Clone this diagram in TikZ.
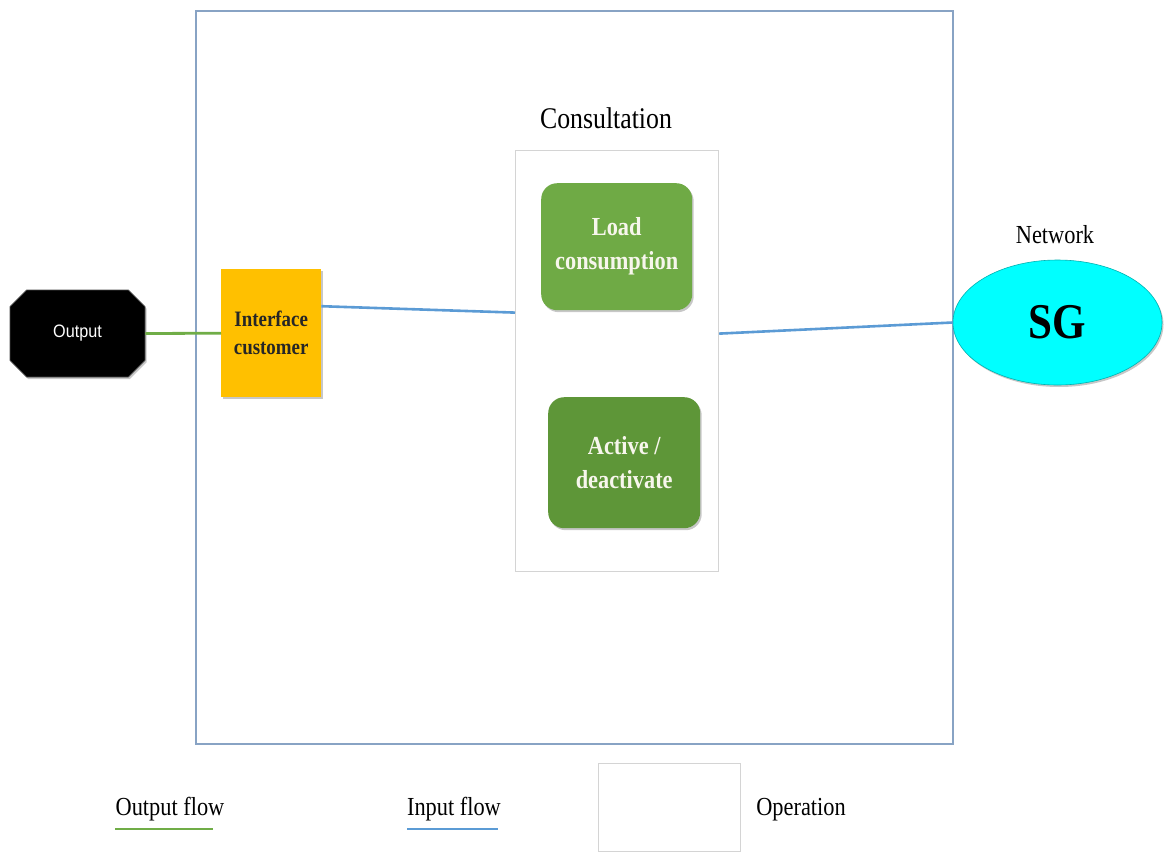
\documentclass[tikz,border=0pt]{standalone}
\usepackage{fontspec}
\setmainfont{Liberation Serif}[FakeStretch=0.86]
\newfontfamily\labelsans{Liberation Sans}[FakeStretch=0.9]
\usetikzlibrary{shapes.geometric,shapes.misc,shadows}
\definecolor{frameblue}{HTML}{88A3C4}
\definecolor{flowblue}{HTML}{5B9BD5}
\definecolor{flowgreen}{HTML}{70AD47}
\definecolor{amber}{HTML}{FFC000}
\definecolor{leafgreen}{HTML}{6FAA45}
\definecolor{darkleaf}{HTML}{5E9638}
\definecolor{sgcyan}{HTML}{00FFFF}
\definecolor{paleedge}{HTML}{D4D4D4}
\definecolor{cream}{HTML}{F7F6EC}
\tikzset{
  softshadow/.style={drop shadow={shadow xshift=1.5pt,shadow yshift=-2pt,opacity=0.22,fill=black}},
  frame/.style={draw=frameblue,line width=1.8pt,fill=none,inner sep=0pt},
  opbox/.style={draw=paleedge,line width=1.2pt,fill=white,inner sep=0pt},
  outputnode/.style={chamfered rectangle,chamfered rectangle xsep=8.5pt,chamfered rectangle ysep=8.5pt,
    fill=black,draw=black!70,line width=0.8pt,inner sep=0pt,text=white,
    font=\labelsans\fontsize{18}{22}\selectfont,softshadow},
  iface/.style={rectangle,fill=amber,draw=none,inner sep=0pt,align=center,text=black!85,
    font=\fontsize{22}{28}\selectfont\bfseries,softshadow},
  task/.style={rectangle,rounded corners=16pt,draw=none,inner sep=0pt,align=center,text=cream,
    font=\fontsize{26}{34}\selectfont\bfseries,softshadow},
  grid/.style={ellipse,fill=sgcyan,draw=sgcyan!70!black,line width=0.6pt,inner sep=0pt,
    font=\fontsize{50}{56}\selectfont\bfseries,softshadow},
  caption/.style={inner sep=0pt,anchor=base,font=\fontsize{26}{30}\selectfont},
  inflow/.style={draw=flowblue,line width=2.6pt},
  outflow/.style={draw=flowgreen,line width=2.8pt},
}
\begin{document}
\begin{tikzpicture}[x=1pt,y=-1pt]
\useasboundingbox (0,0) rectangle (1165,852);
\fill[white] (0,0) rectangle (1165,852);

% system boundary
\node[frame,minimum width=757pt,minimum height=733pt,anchor=north west] (system) at (195,10) {};

% consultation operation with its two tasks
\node[caption,font=\fontsize{30}{34}\selectfont] (consultTitle) at (606,128) {Consultation};
\node[opbox,minimum width=203pt,minimum height=421pt,anchor=north west] (consult) at (515,150) {};
\node[task,fill=leafgreen,minimum width=151pt,minimum height=127pt,anchor=north west] (load) at (541,183) {Load\\consumption};
\node[task,fill=darkleaf,minimum width=152pt,minimum height=131pt,anchor=north west] (active) at (548,397) {Active /\\deactivate};

% customer side
\node[outputnode,minimum width=135pt,minimum height=87pt] (out) at (77.5,333.5) {Output};
\node[iface,minimum width=100pt,minimum height=128pt,anchor=north west] (ifc) at (221,269) {Interface\\customer};

% smart grid
\node[caption] (netTitle) at (1055,243) {Network};
\node[grid,minimum width=209pt,minimum height=125pt] (sg) at (1057.5,322.5) {SG};

% flows
\draw[outflow] (out.east) -- (ifc.west);
\draw[inflow] ([yshift=27pt]ifc.east) -- ([yshift=48.5pt]consult.west);
\draw[inflow] ([yshift=27.5pt]consult.east) -- (sg.west);

% legend
\node[caption] (legOut) at (170,815) {Output flow};
\coordinate (legOutA) at (115,829);
\coordinate (legOutB) at (213,829);
\draw[outflow] (legOutA) -- (legOutB);
\node[caption] (legIn) at (454,815) {Input flow};
\coordinate (legInA) at (407,829);
\coordinate (legInB) at (498,829);
\draw[inflow] (legInA) -- (legInB);
\node[opbox,minimum width=142pt,minimum height=88pt,anchor=north west] (legOp) at (598,763) {};
\node[caption] (legOpText) at (801,815) {Operation};
\end{tikzpicture}
\end{document}
